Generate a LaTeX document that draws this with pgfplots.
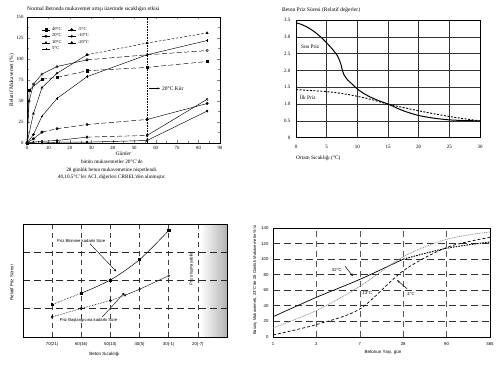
\documentclass[border=0pt]{standalone}
\usepackage{fontspec}
\setmainfont{Liberation Serif}
\setsansfont{Liberation Sans}
\usepackage{pgfplots}
\pgfplotsset{compat=1.18}
\usetikzlibrary{arrows.meta}
\newcommand\fs[1]{\fontsize{#1}{#1}\selectfont}
\newcommand\fsl[2]{\fontsize{#1}{#2}\selectfont}
\begin{document}
\begin{tikzpicture}
\path[use as bounding box, fill=white] (0pt,0pt) rectangle (500pt,364pt);

% ---------------- Chart 1 ----------------
\begin{axis}[
  at={(27pt,221pt)}, anchor=south west, scale only axis,
  width=193pt, height=126pt,
  xmin=0, xmax=90, ymin=0, ymax=150,
  xtick={0,10,...,90}, ytick={0,25,...,150},
  minor x tick num=1, minor y tick num=1,
  tick align=inside, major tick length=2.5pt, minor tick length=1.5pt,
  tick label style={font=\fs{4.8}},
  /pgf/number format/assume math mode=true,
  xlabel={\itshape Günler}, xlabel style={font=\fs{5.5}, yshift=5pt},
  ylabel={Relatif Mukavemet (\%)}, ylabel style={font=\fs{5.5}, yshift=-5pt},
  axis line style={line width=0.5pt},
  every axis plot/.append style={line width=0.45pt, mark size=1.2pt, mark options={solid}},
  legend columns=2,
  legend style={draw=none, fill=none, font=\fs{4.5}, at={(0.06,0.95)}, anchor=north west,
    row sep=-2pt, /tikz/every even column/.append style={column sep=4pt}},
  legend cell align=left,
  legend image code/.code={\draw[mark repeat=2,mark phase=2,#1] plot coordinates {(0pt,0pt)(4pt,0pt)(8pt,0pt)};},
  clip=false,
]
\addplot[black, mark=square*] coordinates {(0,0)(1,63)(7,76)};
\addlegendentry{40°C}
\addplot[black, mark=*] coordinates {(0,0)(3,5)(7,13)};
\addlegendentry{-5°C}
\addplot[black, mark=o] coordinates {(0,0)(1,50)(3,70)(7,82)(14,91)(28,99)};
\addlegendentry{20°C}
\addplot[black, mark=diamond] coordinates {(0,0)(3,1)(7,2)(14,3)(28,7)};
\addlegendentry{-10°C}
\addplot[black, mark=triangle*] coordinates {(0,0)(3,35)(7,66)(14,83)(28,105)};
\addlegendentry{10°C}
\addplot[black, mark=diamond*] coordinates {(0,0)(7,0)(14,1)(28,1)(56,3)(84,38)};
\addlegendentry{-20°C}
\addplot[black, mark=+] coordinates {(0,0)(3,10)(7,32)(14,53)(28,79)(56,105)(84,122)};
\addlegendentry{5°C}
% later segments
\addplot[black, mark=square*, dash pattern=on 5pt off 2.5pt, forget plot] coordinates {(7,76)(14,78)(28,86)(56,90)(84,97)};
\addplot[black, mark=*, dash pattern=on 5pt off 2.5pt, forget plot] coordinates {(7,13)(14,17)(28,22)(56,28)};
\addplot[black, mark=*, forget plot] coordinates {(56,28)(84,47)};
\addplot[black, mark=o, dash pattern=on 5pt off 2.5pt, forget plot] coordinates {(28,99)(56,105)(84,110)};
\addplot[black, mark=diamond, dash pattern=on 5pt off 2.5pt, forget plot] coordinates {(28,7)(56,9)};
\addplot[black, mark=diamond, forget plot] coordinates {(56,9)(84,52)};
\addplot[black, mark=triangle*, dash pattern=on 2.5pt off 1.8pt, forget plot] coordinates {(28,105)(56,119)(84,131)};
\draw[densely dotted, line width=0.6pt] (axis cs:56,0) -- (axis cs:56,150);
\draw[-{Stealth[length=2.5pt]}, line width=0.5pt] (axis cs:57,65) -- (axis cs:62,65);
\node[anchor=west, font=\fs{5.5}, inner sep=1pt] at (axis cs:62.5,65) {20°C Kür};
\node[anchor=west, font=\fs{5.5}, inner sep=0pt] at (rel axis cs:0,1.06) {Normal Betonda mukavemet artışı üzerinde sıcaklığın etkisi};
\node[anchor=north, align=center, font=\fsl{5.2}{7.5}, inner sep=0pt] at (rel axis cs:0.44,-0.135)
  {bütün mukavemetler 20°C'de\\28 günlük beton mukavemetine nispetlendi.\\40,10,5°C'ler ACI, diğerleri CRREL'den alınmıştır.};
\end{axis}

% ---------------- Chart 2 ----------------
\begin{axis}[
  at={(296pt,226.3pt)}, anchor=south west, scale only axis,
  width=184pt, height=117.7pt,
  xmin=0, xmax=30, ymin=0, ymax=3.5,
  xtick={0,5,...,30}, ytick={0,0.5,...,3.5},
  yticklabels={0,0.5,1.0,1.5,2.0,2.5,3.0,3.5},
  major tick length=0pt,
  tick label style={font=\fs{5}},
  xticklabel style={yshift=-4pt}, yticklabel style={xshift=-2pt},
  /pgf/number format/assume math mode=true,
  grid=major, grid style={black!80, line width=0.6pt},
  axis line style={line width=0.6pt},
  clip=false,
]
\addplot[black, line width=1pt, smooth, tension=0.4] coordinates {
 (0,3.42)(1,3.36)(2,3.27)(3,3.15)(4,3.0)(5,2.82)(6,2.62)(6.8,2.42)(7.3,2.2)(7.5,2.05)(7.8,1.88)(8.4,1.72)(9,1.62)(10,1.45)(11,1.32)(12,1.22)(13.5,1.1)(15,1.0)(17.5,0.8)(20,0.66)(22.5,0.58)(25,0.53)(27.5,0.51)(30,0.5)};
\addplot[black, line width=0.9pt, dash pattern=on 2pt off 1.5pt, smooth] coordinates {
 (0,1.43)(5,1.37)(8,1.3)(10,1.23)(12,1.15)(15,1.0)(20,0.8)(25,0.63)(30,0.5)};
\node[anchor=west, font=\fs{5.3}, inner sep=0pt, fill=white] at (axis cs:0.8,2.71) {Son Priz};
\node[anchor=west, font=\fs{5.3}, inner sep=0pt, fill=white] at (axis cs:0.6,1.2) {İlk Priz};
\node[anchor=west, font=\fs{5.5}, inner sep=0pt] at (rel axis cs:-0.076,1.085) {Beton Priz Süresi (Relatif değerler)};
\node[anchor=west, font=\fs{5.3}, inner sep=0pt] at (rel axis cs:0,-0.175) {Ortam Sıcaklığı (°C)};
\end{axis}

% ---------------- Chart 3 ----------------
\begin{axis}[
  at={(23pt,27pt)}, anchor=south west, scale only axis,
  width=204pt, height=113pt,
  xmin=0, xmax=7, ymin=0, ymax=4,
  xtick={1,...,6}, xticklabels={70(21),60(16),50(10),40(5),30(-1),20(-7)},
  ytick={1,2,3}, yticklabels={},
  major tick length=0pt,
  tick label style={font=\sffamily\fs{4.3}},
  xticklabel style={yshift=-2pt},
  grid=major,
  x grid style={black!75, line width=0.6pt, dash pattern=on 5pt off 4pt},
  y grid style={black!85, line width=0.9pt, dash pattern=on 7pt off 4pt},
  axis line style={line width=0.9pt},
  axis on top,
  clip=false,
]
\fill[left color=white, right color=black!30, draw=none] (axis cs:6.08,0) rectangle (axis cs:7,4);
\addplot[black, line width=0.6pt, densely dotted, mark=square*, mark size=1.1pt] coordinates {(1,1.15)(2,1.55)};
\addplot[black, line width=0.5pt, smooth, mark=square*, mark size=1.1pt] coordinates {(2,1.55)(3,2.02)(4,2.74)(5,3.77)};
\addplot[black, line width=0.6pt, densely dotted, smooth, mark=diamond, mark size=1.3pt, mark options={solid}] coordinates {(1,0.71)(2,1.01)(3,1.29)};
\addplot[black, line width=0.6pt, densely dotted, smooth] coordinates {(3,1.29)(3.5,1.48)};
\addplot[black, line width=0.4pt, smooth, mark=diamond, mark size=1.1pt] coordinates {(3.5,1.48)(4,1.69)(5,2.17)};
\draw[-{Stealth[length=3pt]}, line width=0.4pt] (axis cs:2.3,3.3) -- (axis cs:3.2,2.32);
\node[font=\sffamily\fs{4.2}, inner sep=0.5pt, fill=white] at (axis cs:2.0,3.39) {Priz Bitimine kadarki Süre};
\draw[-{Stealth[length=3pt]}, line width=0.4pt] (axis cs:2.72,0.71) -- (axis cs:3.48,1.57);
\node[font=\sffamily\fs{4.2}, inner sep=0.5pt, fill=white] at (axis cs:2.25,0.6) {Priz Başlangıcına kadarki Süre};
\node[rotate=90, font=\sffamily\fs{4.2}, inner sep=0.5pt] at (axis cs:5.78,2.4) {Priz oluşmayabilir};
\node[rotate=90, font=\sffamily\fs{4.5}] at (rel axis cs:-0.055,0.48) {Relatif Priz Süresi};
\node[font=\sffamily\fs{4.5}] at (rel axis cs:0.40,-0.15) {Beton Sıcaklığı};
\end{axis}

% ---------------- Chart 4 ----------------
\begin{axis}[
  at={(273pt,27pt)}, anchor=south west, scale only axis,
  width=217pt, height=109pt,
  xmin=0, xmax=5, ymin=0, ymax=140,
  xtick={0,...,5}, xticklabels={1,2,7,28,90,365},
  ytick={0,20,...,140},
  major tick length=0pt,
  tick label style={font=\sffamily\fs{4.3}},
  /pgf/number format/assume math mode=true,
  xticklabel style={yshift=-2pt}, yticklabel style={xshift=-1pt},
  grid=major,
  x grid style={black!65, line width=0.6pt, dash pattern=on 6pt off 4pt},
  y grid style={black!80, line width=0.9pt, dash pattern=on 7pt off 4pt},
  axis line style={line width=0.8pt},
  clip=false,
]
\addplot[black, line width=0.7pt, smooth] coordinates {(0,26)(1,51)(2,74)(3,100)};
\addplot[black, line width=1pt, dash pattern=on 1.5pt off 1.2pt, smooth] coordinates {(3,100)(4,114)(5,122)};
\addplot[black!45, line width=0.7pt, dash pattern=on 1pt off 0.8pt, smooth] coordinates {(0,11.6)(1,34)(2,65)(3,103)(4,125.5)(5,135)};
\addplot[black, line width=0.7pt, dash pattern=on 3pt off 2pt, smooth] coordinates {(0,2.6)(1,16)(2,36)(3,85)(4,115)(5,128)};
\node[font=\sffamily\fs{4.3}, inner sep=0.5pt] at (axis cs:1.47,86) {32°C};
\draw[-{Stealth[length=3pt]}, line width=0.5pt] (axis cs:1.66,91) -- (axis cs:1.84,78);
\node[font=\sffamily\fs{4.3}, inner sep=0.5pt] at (axis cs:2.17,56) {13°C};
\node[font=\sffamily\fs{4.3}, inner sep=0.5pt] at (axis cs:3.18,55) {4°C};
\draw[-{Stealth[length=3pt]}, line width=0.5pt] (axis cs:3.09,62) -- (axis cs:2.86,73);
\node[rotate=90, font=\sffamily\fs{4.2}] at (rel axis cs:-0.083,0.52) {Basınç Mukavemeti, 23°C'de 28 Günlük Mukavemetin \%'si};
\node[font=\sffamily\fs{4.5}] at (rel axis cs:0.507,-0.14) {Betonun Yaşı, gün};
\end{axis}
\end{tikzpicture}
\end{document}
